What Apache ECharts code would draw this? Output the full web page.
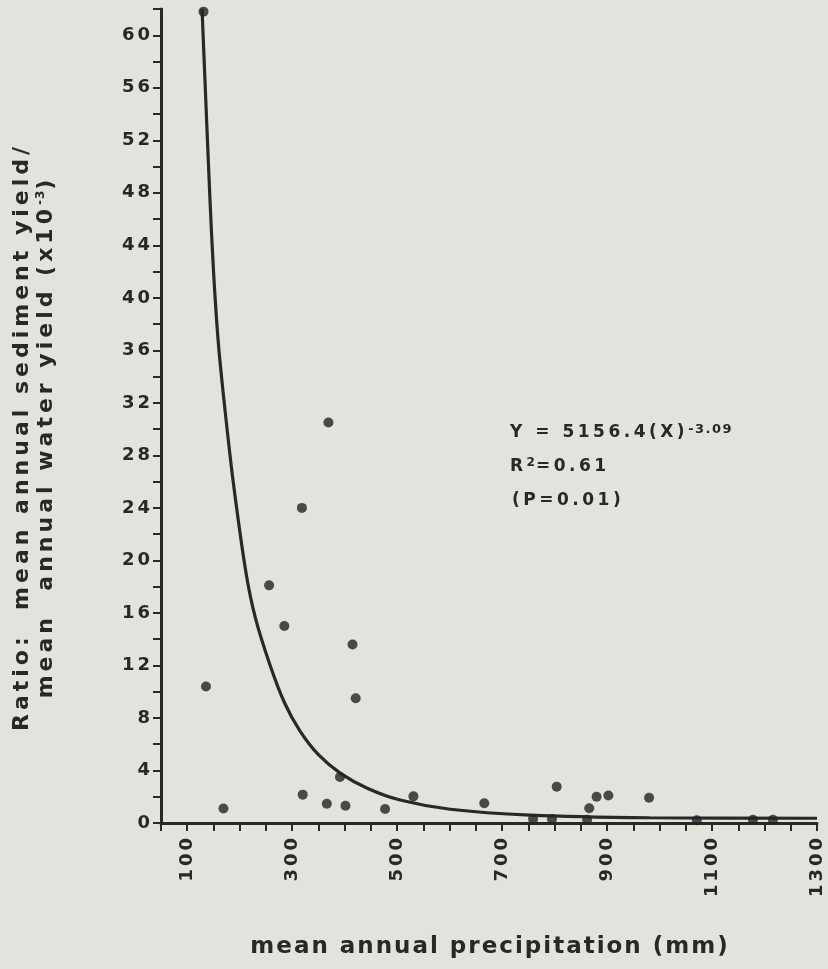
<!DOCTYPE html>
<html>
<head>
<meta charset="utf-8">
<script src="https://cdn.jsdelivr.net/npm/echarts@6/dist/echarts.min.js"></script>
<style>
html,body{margin:0;padding:0;background:#e2e3dc;}
#chart{width:828px;height:969px;}
</style>
</head>
<body>
<div id="chart"></div>
<script>
// ---- data ----
const precipX = [131, 135.7, 169, 256, 285, 318.5, 369, 320, 366, 391, 401.5, 415, 421, 477, 531, 666, 804, 866, 880, 902.5, 980, 759, 795, 862, 1071, 1178, 1216];
const ratioY  = [61.8, 10.4, 1.1, 18.1, 15.0, 24.0, 30.5, 2.16, 1.47, 3.5, 1.32, 13.6, 9.5, 1.07, 2.03, 1.5, 2.77, 1.12, 2.0, 2.09, 1.93, 0.3, 0.3, 0.25, 0.2, 0.25, 0.25];
// fitted curve
const curveX = [128.2, 135.2, 143.2, 150.1, 159.6, 172.4, 188.2, 211.8, 230, 258, 286, 315, 350, 391.4, 443, 505.7, 601, 753, 981, 1300];
const curveY = [62, 55.2, 47.6, 42.0, 36.4, 31.3, 25.8, 19.1, 15.6, 12.0, 9.1, 7.0, 5.2, 3.8, 2.65, 1.75, 1.05, 0.6, 0.4, 0.36];
const xTickLabels = [100, 300, 500, 700, 900, 1100, 1300];
const yTickLabels = [0, 4, 8, 12, 16, 20, 24, 28, 32, 36, 40, 44, 48, 52, 56, 60];
const xTitle = 'mean annual precipitation (mm)';
const yTitle1 = 'Ratio:  mean annual sediment yield/';
const yTitle2 = 'mean  annual water yield (x10';
const eqLines = ['Y = 5156.4(X)', '-3.09', 'R', '2', '=0.61', '(P=0.01)'];

// letter spacing (the reference typeface is wide and tracked)
const SPACING = {18: 3, 23: 2, 22: 4, 17: 3.5, 13: 1.5, 12: 1};
(function(){
  const P = CanvasRenderingContext2D.prototype;
  const of = P.fillText, om = P.measureText;
  function setLS(ctx){
    const m = /(\d+(?:\.\d+)?)px/.exec(ctx.font || '');
    const fs = m ? +m[1] : 12;
    try { ctx.letterSpacing = (SPACING[fs] != null ? SPACING[fs] : 0) + 'px'; } catch(e) {}
  }
  P.fillText = function(){ setLS(this); return of.apply(this, arguments); };
  P.measureText = function(){ setLS(this); return om.apply(this, arguments); };
})();

const FONT = "'DejaVu Sans', sans-serif";
const INK = '#2a2727';

const chart = echarts.init(document.getElementById('chart'), null, {renderer: 'canvas'});
chart.setOption({
  backgroundColor: '#e2e3dc',
  animation: false,
  grid: {left: 161, right: 11, top: 9, bottom: 146, containLabel: false, outerBoundsMode: 'none'},
  xAxis: {
    type: 'value', min: 50, max: 1300, interval: 50,
    axisLine: {show: true, onZero: false, lineStyle: {color: INK, width: 3}},
    axisTick: {show: true, length: 8, lineStyle: {color: INK, width: 2}},
    splitLine: {show: false},
    axisLabel: {
      rotate: 90, margin: 12, color: INK, fontSize: 18, fontWeight: 'bold', fontFamily: FONT,
      showMinLabel: true, showMaxLabel: true, hideOverlap: false,
      formatter: v => xTickLabels.indexOf(v) >= 0 ? String(v) : ''
    }
  },
  yAxis: {
    type: 'value', min: 0, max: 62, interval: 2,
    axisLine: {show: true, onZero: false, lineStyle: {color: INK, width: 3}},
    axisTick: {show: true, length: 8, lineStyle: {color: INK, width: 2}},
    splitLine: {show: false},
    axisLabel: {
      margin: 8, color: INK, fontSize: 18, fontWeight: 'bold', fontFamily: FONT,
      showMinLabel: true, showMaxLabel: true, hideOverlap: false,
      formatter: v => yTickLabels.indexOf(v) >= 0 ? String(v) : ''
    }
  },
  series: [
    {
      type: 'line', data: curveX.map((x, i) => [x, curveY[i]]),
      smooth: 0.3, showSymbol: false, symbol: 'none',
      lineStyle: {color: INK, width: 3.2}, z: 3
    },
    {
      type: 'scatter', data: precipX.map((x, i) => [x, ratioY[i]]),
      symbol: 'circle', symbolSize: 10, itemStyle: {color: '#262223'}, z: 4, clip: false
    }
  ],
  graphic: [
    {
      type: 'text', x: 490, y: 947,
      style: {text: xTitle, fill: INK, font: "bold 23px " + FONT, align: 'center', verticalAlign: 'middle'}
    },
    {
      type: 'text', x: 34, y: 437, rotation: Math.PI / 2,
      style: {
        text: '{a|' + yTitle1 + '}\n{a|' + yTitle2 + '}{s|-3}{a|)}',
        fill: INK, align: 'center', verticalAlign: 'middle',
        rich: {
          a: {fontSize: 22, fontWeight: 'bold', fontFamily: FONT, lineHeight: 24, fill: INK, color: INK},
          s: {fontSize: 12, fontWeight: 'bold', fontFamily: FONT, lineHeight: 14, verticalAlign: 'top', fill: INK, color: INK}
        }
      }
    },
    {
      type: 'text', x: 510, y: 433,
      style: {
        text: '{a|' + eqLines[0] + '}{s|' + eqLines[1] + '}',
        fill: INK, align: 'left', verticalAlign: 'middle',
        rich: {
          a: {fontSize: 17, fontWeight: 'bold', fontFamily: FONT, lineHeight: 22, color: INK},
          s: {fontSize: 13, fontWeight: 'bold', fontFamily: FONT, lineHeight: 13, verticalAlign: 'top', color: INK}
        }
      }
    },
    {
      type: 'text', x: 510, y: 467,
      style: {
        text: '{a|' + eqLines[2] + '}{s|' + eqLines[3] + '}{a|' + eqLines[4] + '}',
        fill: INK, align: 'left', verticalAlign: 'middle',
        rich: {
          a: {fontSize: 17, fontWeight: 'bold', fontFamily: FONT, lineHeight: 22, color: INK},
          s: {fontSize: 12, fontWeight: 'bold', fontFamily: FONT, lineHeight: 13, verticalAlign: 'top', color: INK}
        }
      }
    },
    {
      type: 'text', x: 512, y: 501,
      style: {text: eqLines[5], fill: INK, font: "bold 17px " + FONT, align: 'left', verticalAlign: 'middle'}
    }
  ]
});
</script>
</body>
</html>
